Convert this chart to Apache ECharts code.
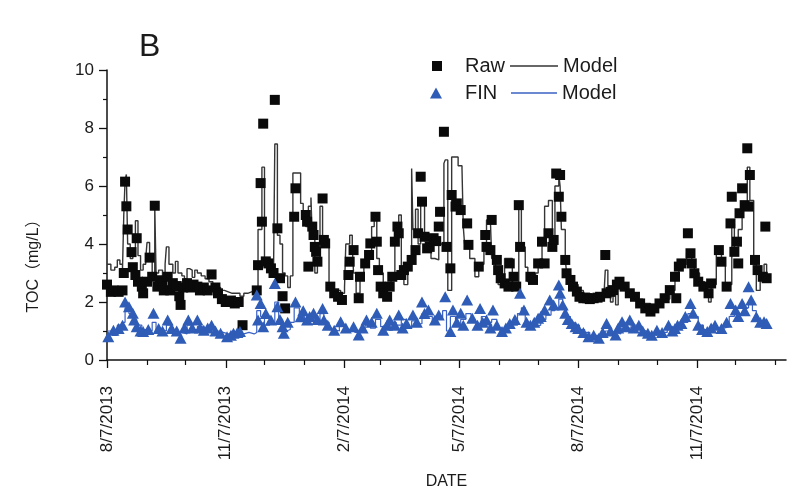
<!DOCTYPE html>
<html>
<head>
<meta charset="utf-8">
<script src="https://cdn.jsdelivr.net/npm/echarts@6/dist/echarts.min.js"></script>
<style>
html,body{margin:0;padding:0;background:#fff;}
#c{width:795px;height:495px;}
</style>
</head>
<body>
<div id="c"></div>
<script>
// x values are days since 8/7/2013
const startDate = '8/7/2013';
const tickLabels = ['8/7/2013','11/7/2013','2/7/2014','5/7/2014','8/7/2014','11/7/2014'];
const minorTickLabels = ['9/7/2013','10/7/2013','12/7/2013','1/7/2014','3/7/2014','4/7/2014','6/7/2014','7/7/2014','9/7/2014','10/7/2014','12/7/2014','1/7/2015'];
const yTicks = [0, 2, 4, 6, 8, 10];

const rawDays = [0,3,5,9,12,13,14,15,16,19,20,22,23,24,27,28,31,33,35,37,39,41,43,44,47,49,51,54,56,57,59,62,65,67,70,72,75,78,81,84,86,89,92,96,99,102,105,
116,117,119,120,121,123,125,127,129,130,132,134,136,138,145,146,154,155,156,159,160,161,162,163,167,168,169,173,176,179,182,187,188,191,195,196,200,203,204,208,209,210,212,214,217,219,221,223,225,226,228,230,233,236,239,241,243,244,246,248,250,253,255,257,258,261,263,266,267,270,271,274,279,280,288,293,294,297,298,302,303,305,308,311,312,315,317,319,320,328,330,334,337,339,342,345,346,348,350,351,352,355,356,359,361,364,366,369,372,374,377,380,382,386,387,390,392,395,397,401,405,409,413,417,421,424,428,432,436,440,441,443,445,450,452,453,455,458,462,466,468,474,476,480,483,484,486,488,489,490,492,494,496,497,498,502,504,508,510,511];
const rawVals = [2.6,2.35,2.4,2.35,2.4,3.0,6.15,5.3,4.5,3.72,3.2,2.93,4.2,2.7,2.53,2.3,2.7,3.53,2.87,5.32,2.53,2.75,2.65,2.4,2.87,2.4,2.65,2.55,2.2,1.9,2.5,2.65,2.5,2.6,2.53,2.4,2.5,2.4,2.95,2.5,2.3,2.1,2.0,2.05,1.95,2.0,1.2,
2.4,3.27,6.1,4.77,8.15,3.4,3.33,3.16,3.0,8.97,4.54,2.82,2.2,1.78,4.94,5.92,5.0,4.77,3.22,4.6,4.31,3.9,3.73,3.39,5.57,4.14,4.02,2.53,2.3,2.18,2.07,2.93,3.39,3.79,2.13,2.87,3.33,3.62,4.02,4.94,4.08,3.1,2.53,2.3,2.18,2.53,2.87,4.08,4.6,4.37,2.93,3.1,3.22,3.45,3.79,4.37,6.32,5.46,4.25,3.85,3.9,4.2,4.1,4.6,5.11,7.87,3.9,3.16,5.69,5.29,5.4,5.17,4.71,3.97,3.22,4.31,3.9,3.79,4.83,3.45,3.1,2.82,2.64,2.53,3.33,2.87,2.53,5.34,3.9,2.87,2.76,3.33,4.08,3.33,4.37,3.9,4.14,6.43,5.63,6.38,4.94,3.45,2.99,2.76,2.53,2.36,2.18,2.13,2.13,2.1,2.13,2.15,2.18,3.62,2.3,2.35,2.41,2.6,2.7,2.53,2.3,2.18,1.95,1.78,1.67,1.78,1.95,2.13,2.41,2.87,2.13,3.22,3.33,4.37,3.68,3.33,2.99,2.7,2.53,2.3,2.64,3.79,3.39,2.53,4.71,5.63,3.73,4.08,3.33,5.06,5.92,5.34,7.3,5.29,6.38,3.45,3.1,2.87,4.6,2.82];

const finDays = [1,5,9,12,14,17,20,21,23,26,28,32,36,40,43,47,50,54,57,60,63,66,70,72,75,78,81,84,88,93,96,98,101,103,
116,117,119,121,123,127,130,132,134,136,137,140,146,150,152,155,157,160,163,167,168,171,176,181,185,191,195,198,201,205,209,214,217,219,223,226,229,232,237,240,244,246,249,254,257,262,266,268,271,274,276,279,283,287,289,291,294,297,299,302,306,309,312,316,320,323,325,328,331,334,336,339,343,346,350,351,353,355,357,360,363,365,369,373,377,381,384,387,390,394,396,399,402,405,408,412,415,419,422,426,430,435,438,440,442,445,448,452,454,458,461,465,468,471,476,480,483,487,489,492,494,497,499,503,506,509,511];
const finVals = [0.8,1.03,1.09,1.2,2.0,1.84,1.61,1.38,1.15,1.0,0.98,1.05,1.61,1.09,1.0,1.38,1.09,1.0,0.75,1.1,1.38,1.1,1.38,1.1,1.03,1.1,1.2,1.0,0.92,0.8,0.85,0.92,0.95,0.98,
2.24,1.38,1.95,1.15,1.6,1.38,2.64,1.84,1.4,1.15,0.92,1.3,2.0,1.49,1.7,1.38,1.5,1.61,1.4,1.78,1.38,1.2,1.03,1.32,1.1,1.15,0.86,1.1,1.38,1.3,1.61,1.03,1.2,1.38,1.2,1.55,1.1,1.26,1.55,1.3,2.0,1.6,1.72,1.38,1.55,2.18,0.98,1.72,1.3,1.61,1.2,2.07,1.44,1.2,1.78,1.3,1.38,1.1,1.72,1.2,0.98,1.1,1.26,1.4,2.3,1.72,1.3,1.2,1.3,1.44,1.5,1.72,2.07,1.9,2.59,2.3,1.9,1.61,1.4,1.26,1.15,1.09,0.95,0.8,0.85,0.75,0.95,1.26,1.0,0.86,1.1,1.32,1.15,1.38,1.1,1.2,1.0,0.92,0.85,1.03,0.95,1.2,1.0,1.09,1.2,1.26,1.5,1.95,1.61,1.2,1.05,0.98,1.1,1.2,1.09,1.3,1.95,1.72,1.5,1.95,1.7,2.53,2.07,1.49,1.3,1.32,1.26];

const rawModelDays = [0,3,6,8,10,12,13,14,15,16,18,20,22,24,26,28,30,31,33,35,37,38,40,43,45,46,48,51,53,55,58,60,62,64,66,68,70,73,76,79,82,85,88,91,94,97,100,103,106,109,112,115,
116,117,120,122,124,127,129,130,131,132,134,136,138,140,142,144,147,150,152,154,156,158,159,161,163,165,167,170,172,
175,178,181,184,185,188,190,191,193,196,199,202,205,207,209,211,214,217,220,223,226,228,230,233,236,237,239,241,243,246,249,251,254,257,261,262,264,267,272,275,276,277,281,285,288,292,294,297,298,301,303,306,308,311,314,316,319,321,324,326,329,332,334,337,339,342,345,347,350,
351,352,355,356,359,361,365,369,374,379,385,386,388,390,392,394,396,399,403,406,410,415,421,426,431,436,440,443,
445,449,453,455,459,463,466,468,472,476,479,481,484,486,489,492,496,498,501,503,506,509,511];
const rawModelVals = [3.3,3.1,3.2,3.45,3.3,3.1,5.0,6.2,6.4,4.0,3.5,3.6,4.8,3.6,3.1,3.3,3.5,4.05,3.4,3.0,5.3,3.0,3.1,2.9,3.3,3.9,3.3,3.0,3.4,3.0,2.9,2.8,3.15,3.1,2.85,3.1,3.0,2.9,2.8,2.7,2.6,2.5,2.4,2.35,2.3,2.3,2.3,2.2,2.3,2.35,2.4,2.5,
2.5,4.5,6.65,3.2,3.1,3.0,2.95,7.45,7.45,4.3,4.0,3.0,2.9,2.5,2.9,6.45,6.45,5.4,5.1,4.6,5.3,5.6,4.2,3.0,3.4,5.3,4.0,3.9,2.5,
2.3,2.4,2.3,2.5,4.0,4.3,3.9,3.0,2.3,2.9,3.2,3.6,4.6,5.0,3.5,3.0,2.5,2.4,2.9,4.4,5.0,3.0,2.6,3.5,6.6,4.5,5.2,4.0,5.5,4.1,4.3,3.5,3.45,4.0,6.78,6.9,2.4,7.0,6.7,6.6,4.6,4.0,3.5,2.87,3.3,3.9,4.83,4.8,3.5,3.2,2.6,2.6,3.5,3.5,2.5,2.6,5.4,3.9,3.2,2.7,2.7,3.0,3.4,4.0,5.3,5.5,3.9,6.0,6.4,
6.0,4.5,3.5,3.0,2.8,2.6,2.4,2.3,2.2,2.25,2.3,3.1,2.4,2.0,2.4,1.9,2.5,2.5,2.4,2.3,2.1,1.95,1.85,1.9,2.1,2.4,2.9,3.2,
3.3,3.7,3.3,3.0,2.7,2.4,2.0,2.6,3.8,3.4,2.6,2.6,4.7,3.7,4.5,5.2,6.65,5.5,3.3,2.4,3.0,3.3,2.8];

const finModelDays = [0,4,8,12,14,17,20,23,27,31,35,38,42,46,50,54,58,62,66,70,74,78,82,86,90,94,98,102,106,110,114,116,119,122,126,130,133,136,139,142,145,149,153,157,161,165,168,172,176,180,184,188,192,196,200,204,208,212,216,220,224,228,232,236,240,244,248,252,256,260,263,266,270,274,278,282,286,290,294,298,302,306,310,314,318,321,324,328,332,336,340,344,347,350,353,356,359,362,366,370,374,378,382,386,390,394,398,402,406,410,414,418,422,426,430,434,438,442,446,450,454,458,462,466,470,474,478,482,486,490,494,497,500,503,506,510];
const finModelVals = [1.0,0.85,1.2,1.3,1.8,1.6,1.4,1.2,1.05,1.0,1.3,1.05,1.0,1.2,1.05,0.95,0.9,1.2,1.05,1.15,1.0,1.05,1.0,0.95,0.9,0.85,0.85,0.9,0.95,0.9,0.95,1.7,1.5,1.2,1.3,2.0,1.4,1.0,1.05,1.3,1.8,1.5,1.4,1.45,1.3,1.6,1.3,1.05,1.0,1.2,1.05,1.1,0.95,1.0,1.2,1.1,1.4,1.15,1.05,1.3,1.2,1.4,1.1,1.35,1.25,1.6,1.5,1.3,1.4,1.7,1.0,1.5,1.2,1.4,1.6,1.3,1.15,1.5,1.3,1.4,1.1,0.95,1.1,1.2,1.6,1.8,1.3,1.15,1.2,1.4,1.55,1.7,1.8,2.1,1.8,1.5,1.3,1.2,1.05,0.95,0.85,0.85,0.8,1.0,0.95,0.9,1.1,1.1,1.2,1.05,1.0,0.9,0.85,0.95,0.95,1.05,1.05,1.15,1.3,1.6,1.5,1.2,1.05,1.0,1.1,1.1,1.15,1.5,1.6,1.55,1.8,2.0,1.7,1.4,1.25,1.2];

function dayOf(s) {
  const p = s.split('/').map(Number);
  const q = startDate.split('/').map(Number);
  return Math.round((Date.UTC(p[2], p[0] - 1, p[1]) - Date.UTC(q[2], q[0] - 1, q[1])) / 864e5);
}
const majorDays = tickLabels.map(dayOf);
const minorDays = minorTickLabels.map(dayOf);
const zip = (a, b) => a.map((d, i) => [d, b[i]]);

const FONT = '"Liberation Sans", Arial, "Noto Sans CJK SC", sans-serif';
const TXT = '#1b1b1b';
const BLUE = '#2f5cb6';
const BLUE_LINE = '#3a62c4';

const chart = echarts.init(document.getElementById('c'), null, {renderer: 'canvas'});
const legendBase = {
  orient: 'horizontal', padding: 0, selectedMode: false, itemHeight: 11, symbolKeepAspect: true,
  textStyle: {fontSize: 20, color: TXT, fontFamily: FONT}
};
const padText = {fontSize: 20, color: TXT, fontFamily: FONT, padding: [0, 0, 0, 18]};
chart.setOption({
  backgroundColor: '#ffffff',
  animation: false,
  grid: {left: 107, right: 9, top: 70, bottom: 135, containLabel: false},
  xAxis: [{
    type: 'value', min: 0, max: 526,
    name: 'DATE', nameLocation: 'middle', nameGap: 114,
    nameTextStyle: {fontSize: 16, color: TXT, fontFamily: FONT},
    axisLine: {show: true, onZero: false, lineStyle: {color: '#111', width: 1.5}},
    axisTick: {show: true, customValues: majorDays, length: 8, lineStyle: {color: '#111', width: 1.3}},
    axisLabel: {show: true, customValues: majorDays, rotate: 90, margin: 26, fontSize: 17, color: TXT, fontFamily: FONT,
      formatter: v => { const i = majorDays.indexOf(Math.round(v)); return i >= 0 ? tickLabels[i] : ''; }},
    splitLine: {show: false}
  }, {
    type: 'value', min: 0, max: 526, position: 'bottom',
    axisLine: {show: false},
    axisTick: {show: true, customValues: minorDays, length: 5, lineStyle: {color: '#111', width: 1.2}},
    axisLabel: {show: false},
    splitLine: {show: false}
  }],
  yAxis: {
    type: 'value', min: 0, max: 10, interval: 2,
    axisLine: {show: true, onZero: false, lineStyle: {color: '#111', width: 1.5}},
    axisTick: {show: true, length: 8, lineStyle: {color: '#111', width: 1.3}},
    minorTick: {show: true, splitNumber: 2, length: 4, lineStyle: {color: '#111', width: 1.2}},
    axisLabel: {margin: 13, fontSize: 17, color: TXT, fontFamily: FONT,
      formatter: v => yTicks.indexOf(v) >= 0 ? String(v) : ''},
    splitLine: {show: false}
  },
  legend: [
    Object.assign({}, legendBase, {data: [{name: 'Raw', icon: 'path://M0,0h10v10h-10z'}], left: 432, top: 56, itemWidth: 10, textStyle: padText}),
    Object.assign({}, legendBase, {data: [{name: 'Raw Model', icon: 'path://M0,0h48v1.3h-48z'}], left: 510, top: 56, itemWidth: 48, formatter: () => 'Model'}),
    Object.assign({}, legendBase, {data: [{name: 'FIN', icon: 'path://M5,0L10,9H0z'}], left: 430, top: 83, itemWidth: 12, textStyle: padText}),
    Object.assign({}, legendBase, {data: [{name: 'FIN Model', icon: 'path://M0,0h46v1.3h-46z'}], left: 511, top: 83, itemWidth: 46, formatter: () => 'Model'})
  ],
  graphic: [
    {type: 'text', left: 139, top: 31, style: {text: 'B', fontSize: 32, fill: TXT, fontFamily: FONT}},
    {type: 'text', x: 34, y: 262, rotation: Math.PI / 2,
      style: {text: 'TOC\uFF08mg/L\uFF09', fontSize: 16, fill: TXT, fontFamily: FONT, align: 'center', verticalAlign: 'middle'}}
  ],
  series: [
    {name: 'Raw Model', type: 'line', step: 'end', showSymbol: false, symbol: 'none', data: zip(rawModelDays, rawModelVals),
      lineStyle: {color: '#353535', width: 1.4}, itemStyle: {color: '#353535'}, z: 2},
    {name: 'FIN Model', type: 'line', step: 'end', showSymbol: false, symbol: 'none', data: zip(finModelDays, finModelVals),
      lineStyle: {color: BLUE_LINE, width: 1.2}, itemStyle: {color: BLUE_LINE}, z: 2},
    {name: 'Raw', type: 'scatter', symbol: 'rect', symbolSize: 10, data: zip(rawDays, rawVals),
      itemStyle: {color: '#0a0a0a', opacity: 1}, z: 3},
    {name: 'FIN', type: 'scatter', symbol: 'triangle', symbolSize: [12, 11], data: zip(finDays, finVals),
      itemStyle: {color: BLUE, opacity: 1}, z: 4}
  ]
});
</script>
</body>
</html>
